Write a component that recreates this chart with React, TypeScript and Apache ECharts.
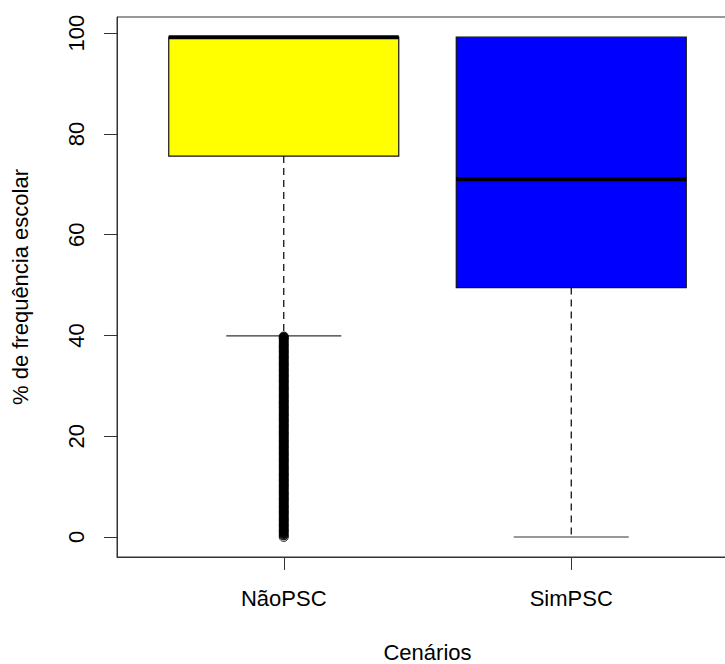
import React, { useEffect, useRef } from "react";
import * as echarts from "echarts";

const categories = ["NãoPSC", "SimPSC"];
const boxColors = ["#FFFF00", "#0000FF"];
// [lower whisker, Q1, median, Q3, upper whisker]
const naoPSC = [39.9, 75.6, 99.2, 99.2, 99.2];
const simPSC = [0, 49.5, 71.0, 99.2, 99.2];
const yTicks = [0, 20, 40, 60, 80, 100];
const naoOutliers = [
  0, 0.3, 0.7, 1.1, 1.4, 1.8, 2.2, 2.5, 2.9, 3.3, 3.6, 4, 4.4, 4.8, 5.1, 5.5, 5.9, 6.2, 6.6, 7, 7.4,
  7.7, 8.1, 8.5, 8.8, 9.2, 9.6, 10, 10.3, 10.7, 11.1, 11.4, 11.8, 12.2, 12.5, 12.9, 13.3, 13.7, 14,
  14.4, 14.8, 15.2, 15.5, 15.9, 16.3, 16.6, 17, 17.4, 17.8, 18.1, 18.5, 18.9, 19.2, 19.6, 20, 20.4,
  20.7, 21.1, 21.5, 21.9, 22.2, 22.6, 23, 23.3, 23.7, 24.1, 24.4, 24.8, 25.2, 25.6, 25.9, 26.3, 26.7,
  27, 27.4, 27.8, 28.1, 28.5, 28.9, 29.3, 29.6, 30, 30.4, 30.8, 31.1, 31.5, 31.9, 32.2, 32.6, 33,
  33.3, 33.7, 34.1, 34.4, 34.8, 35.2, 35.6, 35.9, 36.3, 36.7, 37, 37.4, 37.8, 38.1, 38.5, 38.9, 39.3,
  39.6, 39.8,
];

const FONT = "'Liberation Sans', Arial, sans-serif";

export default function App() {
  const ref = useRef<HTMLDivElement>(null);
  useEffect(() => {
    if (!ref.current) return;
    const chart = echarts.init(ref.current, null, { renderer: "svg" });
    const stats = [naoPSC, simPSC];
    const boxData = stats.map((s, i) => [i + 1, ...s]);
    const outlierData = naoOutliers.map((v, i) =>
      i === 0
        ? { value: [1, v], itemStyle: { color: "rgba(0,0,0,0)", borderColor: "#000", borderWidth: 1 } }
        : { value: [1, v] }
    );
    chart.setOption({
      animation: false,
      textStyle: { fontFamily: FONT },
      grid: {
        left: 117,
        top: 17,
        width: 621,
        height: 540,
        outerBoundsMode: "none",
        containLabel: false,
        show: true,
        borderColor: "#333",
        borderWidth: 1,
        backgroundColor: "transparent",
      },
      xAxis: {
        type: "value",
        min: 0.42,
        max: 2.58,
        splitLine: { show: false },
        axisLine: { show: true, onZero: false, lineStyle: { color: "#333", width: 1 } },
        axisTick: { show: true, length: 13, customValues: [1, 2], lineStyle: { color: "#333" } },
        axisLabel: {
          customValues: [1, 2],
          formatter: (v: number) => categories[Math.round(v) - 1] ?? "",
          fontSize: 22,
          color: "#000",
          margin: 30,
          fontFamily: FONT,
        },
        name: "Cenários",
        nameLocation: "middle",
        nameGap: 84,
        nameTextStyle: { fontSize: 22, color: "#000", fontFamily: FONT },
      },
      yAxis: {
        type: "value",
        min: -3.97,
        max: 103.2,
        splitLine: { show: false },
        axisLine: { show: true, onZero: false, lineStyle: { color: "#333", width: 1 } },
        axisTick: { show: true, length: 13, customValues: yTicks, lineStyle: { color: "#333" } },
        axisLabel: {
          customValues: yTicks,
          rotate: 90,
          fontSize: 22,
          color: "#000",
          margin: 30,
          fontFamily: FONT,
        },
        name: "% de frequência escolar",
        nameLocation: "middle",
        nameRotate: 90,
        nameGap: 86,
        nameTextStyle: { fontSize: 22, color: "#000", fontFamily: FONT },
      },
      series: [
        {
          type: "custom",
          data: boxData,
          encode: { x: 0, y: [1, 2, 3, 4, 5] },
          renderItem: (params: any, api: any) => {
            const x = api.value(0);
            const lo = api.value(1);
            const q1 = api.value(2);
            const med = api.value(3);
            const q3 = api.value(4);
            const hi = api.value(5);
            const hb = 0.4;
            const hc = 0.2;
            const pLo = api.coord([x, lo]);
            const pQ1 = api.coord([x, q1]);
            const pQ3 = api.coord([x, q3]);
            const pHi = api.coord([x, hi]);
            const capLoL = api.coord([x - hc, lo]);
            const capLoR = api.coord([x + hc, lo]);
            const capHiL = api.coord([x - hc, hi]);
            const capHiR = api.coord([x + hc, hi]);
            const boxTL = api.coord([x - hb, q3]);
            const boxBR = api.coord([x + hb, q1]);
            const medL = api.coord([x - hb, med]);
            const medR = api.coord([x + hb, med]);
            const dashStyle = { stroke: "#000", lineWidth: 1.2, lineDash: [7, 5], fill: null };
            const capStyle = { stroke: "#333", lineWidth: 1.2 };
            const children: any[] = [];
            if (hi > q3) {
              children.push({ type: "line", shape: { x1: pQ3[0], y1: pQ3[1], x2: pHi[0], y2: pHi[1] }, style: dashStyle });
              children.push({ type: "line", shape: { x1: capHiL[0], y1: capHiL[1], x2: capHiR[0], y2: capHiR[1] }, style: capStyle });
            }
            children.push({ type: "line", shape: { x1: pQ1[0], y1: pQ1[1], x2: pLo[0], y2: pLo[1] }, style: dashStyle });
            children.push({ type: "line", shape: { x1: capLoL[0], y1: capLoL[1], x2: capLoR[0], y2: capLoR[1] }, style: capStyle });
            children.push({
              type: "rect",
              shape: { x: boxTL[0], y: boxTL[1], width: boxBR[0] - boxTL[0], height: boxBR[1] - boxTL[1] },
              style: { fill: boxColors[params.dataIndex], stroke: "#111", lineWidth: 1.2 },
            });
            children.push({
              type: "line",
              shape: { x1: medL[0], y1: medL[1], x2: medR[0], y2: medR[1] },
              style: { stroke: "#000", lineWidth: 4 },
            });
            return { type: "group", children };
          },
          z: 2,
        },
        {
          type: "scatter",
          data: outlierData,
          symbol: "circle",
          symbolSize: 9,
          itemStyle: { color: "#000", borderColor: "#000", borderWidth: 1 },
          z: 3,
        },
      ],
    });
    return () => chart.dispose();
  }, []);
  return (
    <div style={{ position: "absolute", left: 0, top: 0, width: 725, height: 664, overflow: "hidden", background: "#fff" }}>
      <div ref={ref} style={{ width: 760, height: 664 }} />
    </div>
  );
}
